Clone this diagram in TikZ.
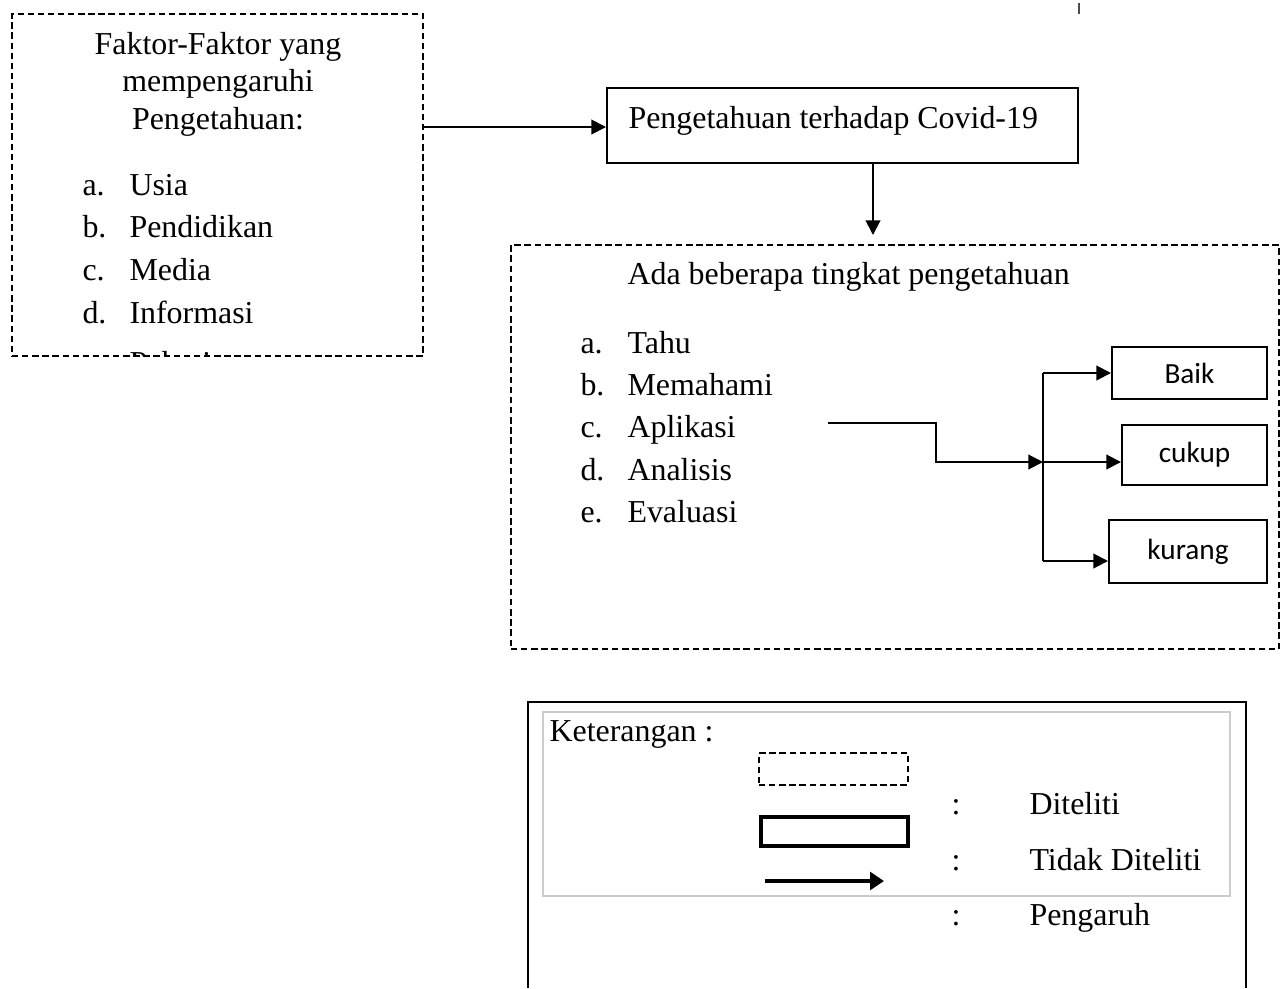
\documentclass[tikz,border=0pt]{standalone}
\usepackage{fontspec}
\setmainfont{Liberation Serif}
\newfontfamily\boxfont{Carlito}
\usetikzlibrary{arrows.meta,calc}
\newcommand{\px}[1]{#1*0.376pt}

\begin{document}
\begin{tikzpicture}[x=0.376pt, y=-0.376pt,
    dashbox/.style={draw, line width=0.6pt, dash pattern=on 2.4pt off 1.4pt, inner sep=0pt},
    solidbox/.style={draw, line width=0.75pt, inner sep=0pt},
    txt/.style={anchor=base west, inner sep=0pt, font=\fontsize{12}{14}\selectfont},
    ctxt/.style={anchor=base, inner sep=0pt, font=\fontsize{12}{14}\selectfont},
    lvl/.style={draw, line width=0.75pt, inner sep=0pt, font=\boxfont\fontsize{11}{13}\selectfont},
    arr/.style={line width=0.75pt, -{Triangle[length=5.5pt, width=5.5pt]}},
    link/.style={line width=0.75pt}]
    %%%%% START %%%%%
    \useasboundingbox (0,0) rectangle (1286,988);

    \draw[line width=1.1pt, black!70] (1079,3) -- (1079,14);

    % faktor-faktor
    \node[dashbox, minimum width=\px{411}, minimum height=\px{342}] (faktor) at (217.5,185) {};
    \node[ctxt] (f1) at (218,54) {Faktor-Faktor yang};
    \node[ctxt] (f2) at (218,91) {mempengaruhi};
    \node[ctxt] (f3) at (218,129) {Pengetahuan:};
    \begin{scope}
        \clip (12,14) rectangle (423,355);
        \foreach \lab/\item/\yy [count=\i] in {a./Usia/195, b./Pendidikan/237, c./Media/280,
                d./Informasi/323, e./Pekerjaan/373} {
            \node[txt] (fl\i) at (82,\yy) {\lab};
            \node[txt] (fi\i) at (129,\yy) {\item};
        }
    \end{scope}

    % pengetahuan
    \node[solidbox, minimum width=\px{471}, minimum height=\px{75}] (covid) at (842.5,125.5) {};
    \node[txt] (covidtxt) at (628,128) {Pengetahuan terhadap Covid-19};

    % tingkat pengetahuan
    \node[dashbox, minimum width=\px{768}, minimum height=\px{404}] (tingkat) at (895,447) {};
    \node[txt] (t0) at (627,284) {Ada beberapa tingkat pengetahuan};
    \foreach \lab/\item/\yy [count=\i] in {a./Tahu/353, b./Memahami/395, c./Aplikasi/437,
            d./Analisis/480, e./Evaluasi/522} {
        \node[txt] (tl\i) at (580,\yy) {\lab};
        \node[txt] (ti\i) at (627,\yy) {\item};
    }

    \node[lvl, minimum width=\px{155}, minimum height=\px{52}] (baik) at (1189.5,373) {Baik};
    \node[lvl, minimum width=\px{145}, minimum height=\px{60}] (cukup) at (1194.5,455) {cukup};
    \node[lvl, minimum width=\px{158}, minimum height=\px{63}] (kurang) at (1188,551.5) {kurang};

    \draw[arr] (faktor.east |- 0,127) -- (covid.west |- 0,127);
    \coordinate (drop) at (873,235);
    \draw[arr] (covid.south -| drop) -- (drop);

    \coordinate (src) at (828,423);
    \coordinate (hub) at (1043,462);
    \draw[arr] (src) -| (936,462) -- (hub);
    \draw[link] (hub |- baik.west) -- ($(hub |- kurang.west)+(0,9.5)$);
    \draw[arr] (hub |- baik.west) -- (baik.west);
    \draw[arr] (hub) -- (cukup.west |- hub);
    \draw[arr] ($(hub |- kurang.west)+(0,9.5)$) -- ($(kurang.west)+(0,9.5)$);

    % keterangan
    \draw[line width=0.8pt] (528,988) -- (528,702) -- (1246,702) -- (1246,988);
    \node[draw=black!20, line width=0.4pt, minimum width=\px{687}, minimum height=\px{184}, inner sep=0pt] (legend) at (886.5,804) {};
    \node[txt] (ket) at (549,741) {Keterangan :};
    \node[dashbox, line width=0.5pt, minimum width=\px{149}, minimum height=\px{32}] (kdash) at (833.5,769) {};
    \node[draw, line width=1.6pt, minimum width=\px{147}, minimum height=\px{29}, inner sep=0pt] (ksolid) at (834.5,831.5) {};
    \coordinate (ka) at (765,881);
    \coordinate (kb) at (884,881);
    \draw[line width=1.3pt, -{Triangle[length=5.2pt, width=6.6pt]}] (ka) -- (kb);
    \foreach \word/\yy [count=\i] in {Diteliti/814, Tidak Diteliti/870, Pengaruh/925} {
        \node[txt] (kc\i) at (951,\yy) {:};
        \node[txt] (kw\i) at (1029,\yy) {\word};
    }
    %%%%% END %%%%%
\end{tikzpicture}
\end{document}
